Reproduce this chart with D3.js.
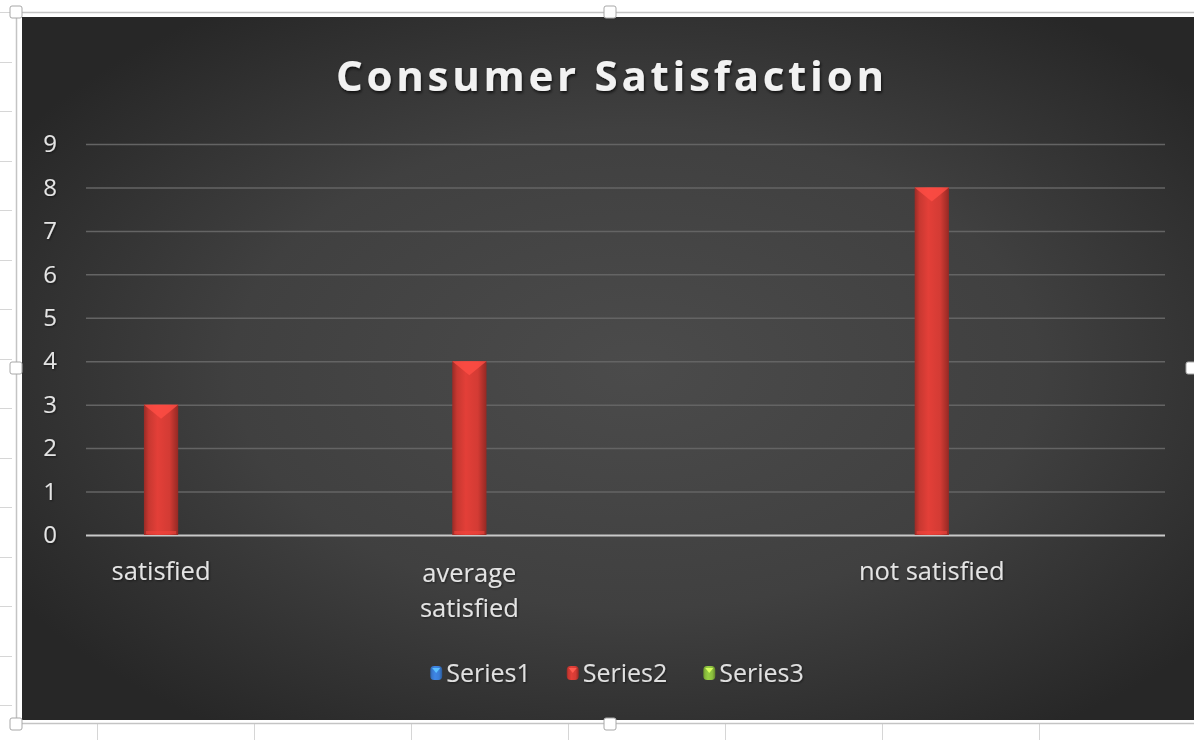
<!DOCTYPE html>
<html>
<head>
<meta charset="utf-8">
<script src="https://cdn.jsdelivr.net/npm/d3@7"></script>
<style>
  body { margin: 0; background: #fff; overflow: hidden; }
  text { font-family: "Open Sans", sans-serif; }
</style>
</head>
<body>
<div id="chart-area"></div>
<script>
// Datos del grafico (las celdas vacias de Excel quedan como categorias sin nombre)
const categorias = ["satisfied", "", "average satisfied", "", "", "not satisfied", ""];
const nombresSeries = ["Series1", "Series2", "Series3"];
const series1 = [null, null, null, null, null, null, null];
const series2 = [3, null, 4, null, null, 8, null];
const series3 = [null, null, null, null, null, null, null];
const yTicks = [0, 1, 2, 3, 4, 5, 6, 7, 8, 9];
const titulo = "Consumer Satisfaction";

const colores = { Series1: "#3b7dd6", Series2: "#d33b34", Series3: "#8cc03e" };

const W = 1194, H = 740;
const plot = { left: 86, right: 1165, top: 144, bottom: 535 };

const svg = d3.select("#chart-area").append("svg")
    .attr("width", W)
    .attr("height", H);

const defs = svg.append("defs");

// fondo oscuro con degradado radial
const rg = defs.append("radialGradient").attr("id", "fondo")
    .attr("cx", "52%").attr("cy", "50%").attr("r", "62%");
rg.append("stop").attr("offset", "0%").attr("stop-color", "#4b4b4b");
rg.append("stop").attr("offset", "55%").attr("stop-color", "#404040");
rg.append("stop").attr("offset", "100%").attr("stop-color", "#272727");

// degradado horizontal de las barras (efecto bisel)
function gradBarra(id, c) {
    const g = defs.append("linearGradient").attr("id", id)
        .attr("x1", "0%").attr("x2", "100%").attr("y1", "0%").attr("y2", "0%");
    const base = d3.rgb(c);
    g.append("stop").attr("offset", "0%").attr("stop-color", base.darker(0.9));
    g.append("stop").attr("offset", "14%").attr("stop-color", base.darker(0.15));
    g.append("stop").attr("offset", "40%").attr("stop-color", base.brighter(0.2));
    g.append("stop").attr("offset", "75%").attr("stop-color", base);
    g.append("stop").attr("offset", "100%").attr("stop-color", base.darker(1));
}
nombresSeries.forEach(s => gradBarra("grad-" + s, colores[s]));

const sombra = defs.append("filter").attr("id", "sombra")
    .attr("x", "-10%").attr("y", "-30%").attr("width", "120%").attr("height", "160%");
sombra.append("feDropShadow").attr("dx", 1).attr("dy", 2).attr("stdDeviation", 1.5)
    .attr("flood-color", "#000").attr("flood-opacity", 0.7);

const sombraSuave = defs.append("filter").attr("id", "sombraSuave")
    .attr("x", "-10%").attr("y", "-30%").attr("width", "120%").attr("height", "160%");
sombraSuave.append("feDropShadow").attr("dx", 1).attr("dy", 1).attr("stdDeviation", 1)
    .attr("flood-color", "#000").attr("flood-opacity", 0.5);

// cuadricula de la hoja de calculo detras del grafico
const hoja = svg.append("g").attr("stroke", "#d6d6d6").attr("stroke-width", 1);
d3.range(97, W, 157).forEach(x => {
    hoja.append("line").attr("x1", x + 0.5).attr("x2", x + 0.5).attr("y1", 724).attr("y2", H);
});
d3.range(12, H, 49.5).forEach(y => {
    hoja.append("line").attr("x1", 0).attr("x2", 12).attr("y1", Math.round(y) + 0.5).attr("y2", Math.round(y) + 0.5);
});

// marco del objeto grafico (sigue mas alla del borde derecho)
svg.append("rect")
    .attr("x", 16.5).attr("y", 12.5).attr("width", 1190).attr("height", 711)
    .attr("fill", "#fff").attr("stroke", "#c4c4c4").attr("stroke-width", 1.5);

svg.append("rect")
    .attr("x", 22).attr("y", 17).attr("width", 1180).attr("height", 703)
    .attr("fill", "url(#fondo)");

// titulo
svg.append("text")
    .attr("x", 610).attr("y", 91)
    .attr("text-anchor", "middle")
    .attr("font-size", 42)
    .attr("font-weight", "bold")
    .attr("fill", "#f2f2f2")
    .attr("textLength", 548)
    .attr("lengthAdjust", "spacing")
    .attr("filter", "url(#sombra)")
    .text(titulo);

// escalas
const x0 = d3.scaleBand().domain(d3.range(categorias.length)).range([plot.left - 2, plot.right - 2]);
const x1 = d3.scaleBand().domain(nombresSeries).range([0, x0.bandwidth()]).paddingOuter(0.75);
const y = d3.scaleLinear().domain([0, 9]).range([plot.bottom, plot.top]);

// lineas de la cuadricula
svg.append("g")
    .attr("class", "grid")
    .attr("transform", "translate(" + plot.left + ",0)")
    .call(d3.axisLeft(y).tickValues(yTicks).tickSize(-(plot.right - plot.left)).tickFormat(""))
    .call(g => g.select(".domain").remove())
    .call(g => g.selectAll("line")
        .attr("stroke", d => d === 0 ? "#c9c9c9" : "#646464")
        .attr("stroke-width", d => d === 0 ? 2 : 1.5));

// eje y
svg.append("g")
    .attr("class", "y axis")
    .attr("transform", "translate(" + plot.left + ",0)")
    .call(d3.axisLeft(y).tickValues(yTicks).tickSize(0).tickPadding(29))
    .call(g => g.select(".domain").remove())
    .call(g => g.selectAll("text")
        .attr("font-size", 24)
        .attr("font-family", "Open Sans, sans-serif")
        .attr("fill", "#e4e4e4")
        .attr("filter", "url(#sombraSuave)"));

// barras
const datosSeries = [series1, series2, series3];
const grupos = svg.selectAll(".slice")
    .data(categorias.map((c, i) => ({
        key: i,
        values: nombresSeries.map((s, j) => ({ serie: s, valor: datosSeries[j][i] }))
    })))
    .enter().append("g")
    .attr("class", "slice")
    .attr("transform", d => "translate(" + x0(d.key) + ",0)");

const barras = grupos.selectAll(".barra")
    .data(d => d.values.filter(v => v.valor != null && v.valor > 0))
    .enter().append("g")
    .attr("class", "barra");

barras.append("rect")
    .attr("x", d => x1(d.serie))
    .attr("y", d => y(d.valor))
    .attr("width", x1.bandwidth())
    .attr("height", d => y(0) - y(d.valor))
    .attr("fill", d => "url(#grad-" + d.serie + ")");

// bisel superior
barras.append("path")
    .attr("d", d => {
        const xa = x1(d.serie), w = x1.bandwidth(), ya = y(d.valor);
        return "M" + xa + "," + ya + "L" + (xa + w) + "," + ya + "L" + (xa + w / 2) + "," + (ya + 14) + "Z";
    })
    .attr("fill", d => d3.rgb(colores[d.serie]).brighter(0.8))
    .attr("opacity", 0.8);

// bisel inferior
barras.append("rect")
    .attr("x", d => x1(d.serie) + 2)
    .attr("y", y(0) - 4)
    .attr("width", x1.bandwidth() - 4)
    .attr("height", 3)
    .attr("fill", d => d3.rgb(colores[d.serie]).brighter(0.4))
    .attr("opacity", 0.6);

// etiquetas de categorias (con salto de linea si no caben)
const etiquetas = svg.append("g").attr("class", "x axis");
categorias.forEach((c, i) => {
    if (!c) return;
    const cx = x0(i) + x0.bandwidth() / 2;
    const t = etiquetas.append("text")
        .attr("x", cx)
        .attr("y", 580)
        .attr("text-anchor", "middle")
        .attr("font-size", 25.5)
        .attr("fill", "#e4e4e4")
        .attr("filter", "url(#sombraSuave)");
    const palabras = c.split(" ");
    let linea = [], n = 0;
    let ts = t.append("tspan").attr("x", cx).attr("dy", 0);
    palabras.forEach(p => {
        linea.push(p);
        ts.text(linea.join(" "));
        if (ts.node().getComputedTextLength() > x0.bandwidth() && linea.length > 1) {
            linea.pop();
            ts.text(linea.join(" "));
            linea = [p];
            n++;
            ts = t.append("tspan").attr("x", cx).attr("dy", 35).text(p);
        }
    });
    if (n > 0) t.attr("y", 582);
});

// leyenda
const leyenda = svg.append("g").attr("class", "legend");
let lx = 0;
nombresSeries.forEach(s => {
    const item = leyenda.append("g").attr("transform", "translate(" + lx + ",0)");
    item.append("rect")
        .attr("x", 0).attr("y", -7).attr("width", 12).attr("height", 14)
        .attr("rx", 4)
        .attr("fill", "url(#grad-" + s + ")");
    item.append("path")
        .attr("d", "M2,-5L10,-5L6,0Z")
        .attr("fill", d3.rgb(colores[s]).brighter(1.2));
    const t = item.append("text")
        .attr("x", 16).attr("y", 9)
        .attr("font-size", 25)
        .attr("fill", "#e0e0e0")
        .attr("filter", "url(#sombraSuave)")
        .text(s);
    lx += 16 + t.node().getComputedTextLength() + 36;
});
const anchoLeyenda = lx - 36;
leyenda.attr("transform", "translate(" + (617 - anchoLeyenda / 2) + ",673)");

// asas de seleccion del objeto
const asas = [[16, 12], [610, 12], [16, 368], [1192, 368], [16, 724], [610, 724]];
svg.selectAll(".asa").data(asas).enter().append("rect")
    .attr("class", "asa")
    .attr("x", d => d[0] - 6).attr("y", d => d[1] - 6)
    .attr("width", 12).attr("height", 12).attr("rx", 2)
    .attr("fill", "#fff").attr("stroke", "#a8a8a8").attr("stroke-width", 1);
</script>
</body>
</html>
